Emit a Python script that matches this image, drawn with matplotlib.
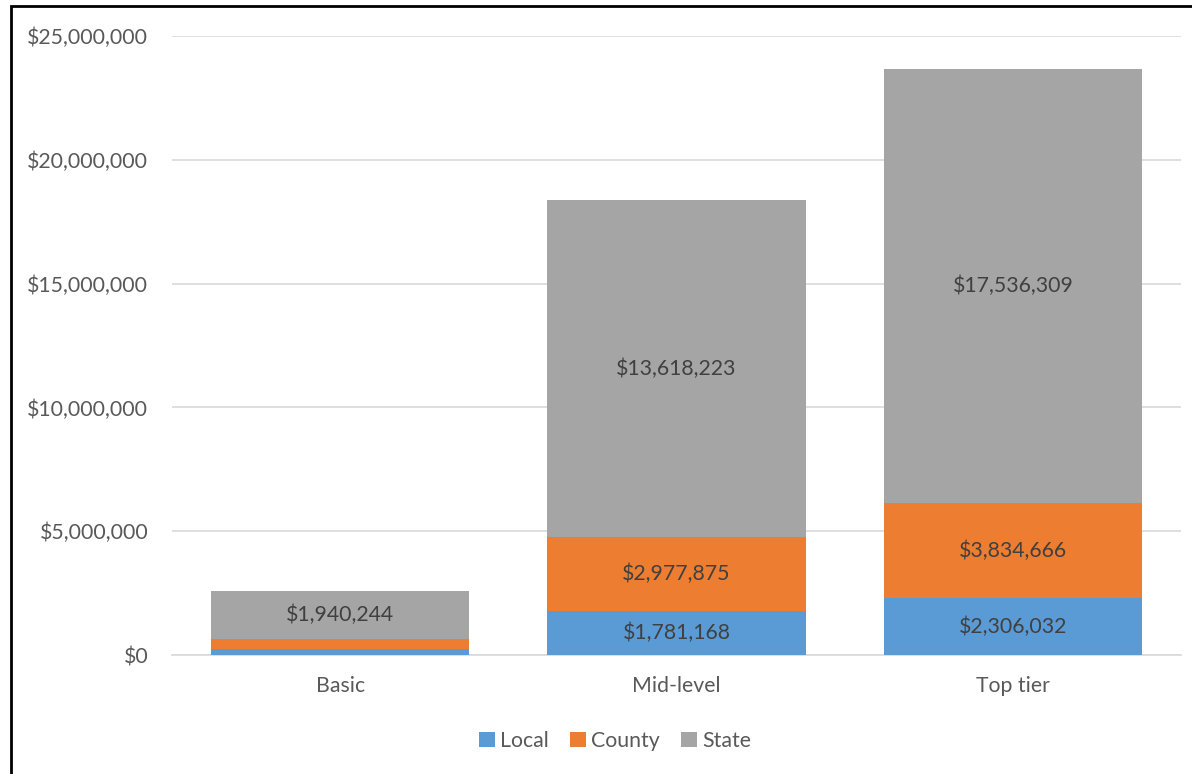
import matplotlib
matplotlib.use("Agg")
import matplotlib.pyplot as plt
from matplotlib.patches import Rectangle
from matplotlib.ticker import FuncFormatter, MultipleLocator

plt.rcParams['font.family'] = ['Lato', 'DejaVu Sans']

categories = ["Basic", "Mid-level", "Top tier"]
local = [230000, 1781168, 2306032]
county = [405000, 2977875, 3834666]
state = [1940244, 13618223, 17536309]
label_local = [False, True, True]
label_county = [False, True, True]
label_state = [True, True, True]

colors = {"Local": "#5b9bd5", "County": "#ed7d31", "State": "#a5a5a5"}
fs = 15.3

fig = plt.figure(figsize=(11.92, 7.74), dpi=100)
ax = fig.add_axes([0.1443, 0.1537, 0.8465, 0.7998])

x = range(len(categories))
width = 0.768
bottoms = [0] * len(categories)
for name, vals, show in (("Local", local, label_local),
                         ("County", county, label_county),
                         ("State", state, label_state)):
    bars = ax.bar(x, vals, width, bottom=bottoms, color=colors[name], label=name, zorder=3)
    for b, v, s, bt in zip(bars, vals, show, bottoms):
        if s:
            ax.text(b.get_x() + b.get_width() / 2, bt + v / 2, f"${v:,.0f}",
                    ha="center", va="center", fontsize=fs, color="#404040", zorder=4)
    bottoms = [a + b for a, b in zip(bottoms, vals)]

ax.set_xlim(-0.5, 2.5)
ax.set_ylim(0, 25000000)
ax.yaxis.set_major_locator(MultipleLocator(5000000))
ax.yaxis.set_major_formatter(FuncFormatter(lambda v, p: f"${v:,.0f}"))
ax.set_xticks(list(x))
ax.set_xticklabels(categories)
ax.grid(axis="y", color="#d9d9d9", linewidth=1.2, zorder=0)
for s in ("top", "right", "left"):
    ax.spines[s].set_visible(False)
ax.spines["bottom"].set_color("#d9d9d9")
ax.spines["bottom"].set_linewidth(1.2)
ax.tick_params(axis="both", length=0, labelsize=fs, labelcolor="#595959")
ax.tick_params(axis="y", pad=17)
ax.tick_params(axis="x", pad=15)

leg = fig.legend(loc="center", bbox_to_anchor=(0.516, 0.043), ncol=3, frameon=False,
                 fontsize=fs, handlelength=0.75, handleheight=0.75, handletextpad=0.25,
                 columnspacing=1.0)
for t in leg.get_texts():
    t.set_color("#595959")

fig.patches.append(Rectangle((11 / 1192, -0.1), 1.2, 1 - 6 / 774 + 0.1,
                             transform=fig.transFigure, fill=False,
                             edgecolor="black", linewidth=2))

fig.savefig("out.png", dpi=100)
